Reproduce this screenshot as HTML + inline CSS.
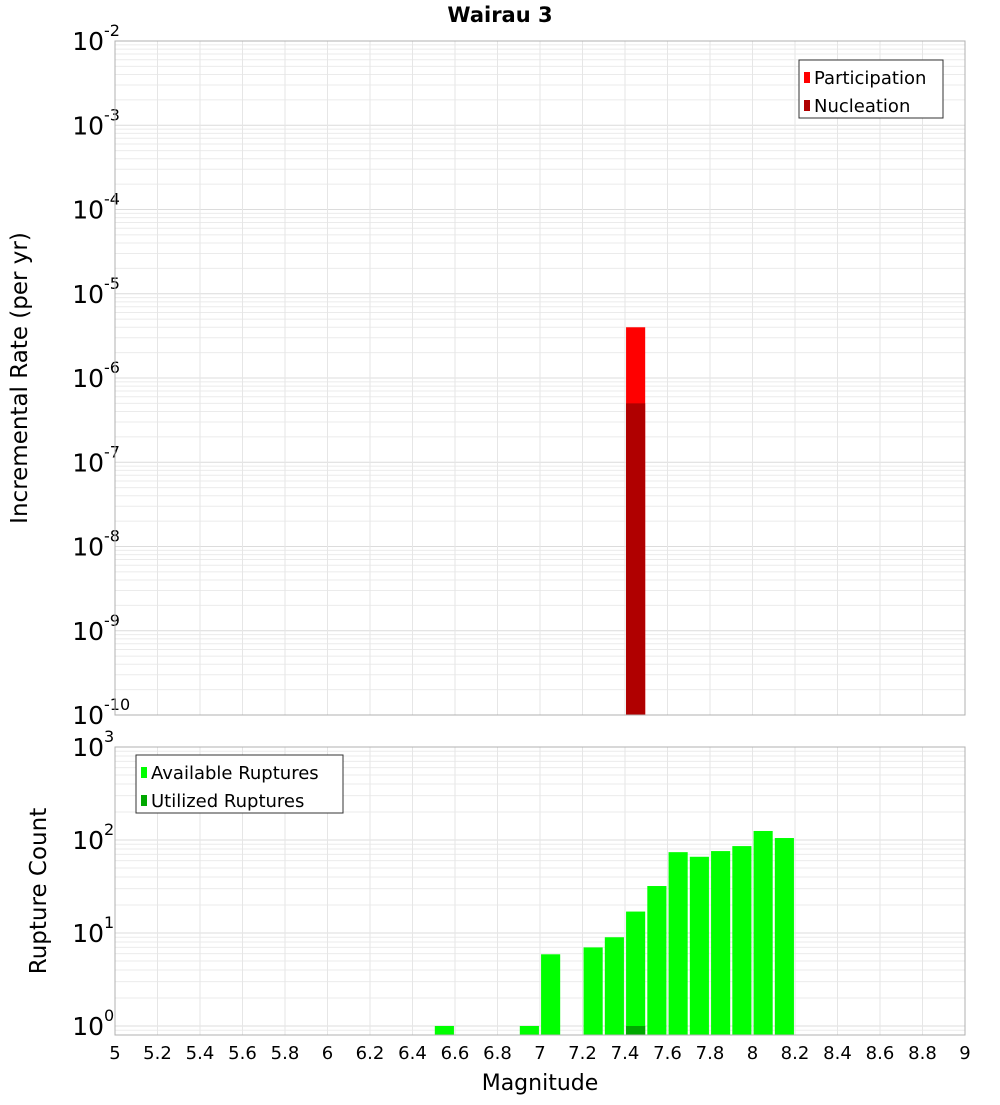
<!DOCTYPE html>
<html><head><meta charset="utf-8"><style>
body{margin:0;background:#fff;font-family:"Liberation Sans","DejaVu Sans",sans-serif}
svg text{font-family:"DejaVu Sans","Liberation Sans",sans-serif}
</style></head><body>
<svg id="chart" width="1000" height="1100" xmlns="http://www.w3.org/2000/svg">
<text x="500" y="22" text-anchor="middle" font-size="21" font-weight="bold">Wairau 3</text>
<g id="top"></g><g id="bot"></g>
</svg>
<script>
const topMags=[7.45];
const participation=[4.0e-6];
const nucleation=[5.0e-7];
const botMags=[6.55,6.95,7.05,7.25,7.35,7.45,7.55,7.65,7.75,7.85,7.95,8.05,8.15];
const available=[1,1,5.9,7,9,17,32,74,66,76,86,125,105];
const utilMags=[7.45];
const utilized=[1];
const xTicks=[5,5.2,5.4,5.6,5.8,6,6.2,6.4,6.6,6.8,7,7.2,7.4,7.6,7.8,8,8.2,8.4,8.6,8.8,9];
const topExps=[-10,-9,-8,-7,-6,-5,-4,-3,-2];
const botExps=[0,1,2,3];

const NS="http://www.w3.org/2000/svg";
const X0=115,X1=965;
const xs=m=>X0+(m-5)/4*(X1-X0);
function mk(p,tag,a){const e=document.createElementNS(NS,tag);for(const k in a)e.setAttribute(k,a[k]);p.appendChild(e);return e;}
function panel(g,yTop,yBot,lmin,lmax,exps,name){
  const ys=v=>yBot-(Math.log10(v)-lmin)/(lmax-lmin)*(yBot-yTop);
  const bg=mk(g,'rect',{x:X0,y:yTop,width:X1-X0,height:yBot-yTop,fill:'#fff'});
  
  
  for(let e=Math.floor(lmin);e<=lmax;e++)for(let k=1;k<10;k++){const v=k*Math.pow(10,e);const l=Math.log10(v);if(l<lmin||l>lmax)continue;
    const ln=mk(g,'line',{x1:X0,x2:X1,y1:ys(v),y2:ys(v),stroke:k==1?'#dcdcdc':'#ebebeb','stroke-width':1});
    
    }
  xTicks.forEach(t=>{const ln=mk(g,'line',{x1:xs(t),x2:xs(t),y1:yTop,y2:yBot,stroke:'#e6e6e6'});
    
    });
  exps.forEach(e=>{const y=ys(Math.pow(10,e));
    const t=mk(g,'text',{x:104,y:y+9,'text-anchor':'end','font-size':25});
    
    
    t.textContent='10';
    const s=mk(g,'text',{x:104,y:y-5,'font-size':16});
    
    
    s.textContent=String(e);});
  return ys;
}
function bars(g,ys,mags,vals,color,name,yBot){
  mags.forEach((m,i)=>{const y=ys(vals[i]);
    const r=mk(g,'rect',{x:xs(m-0.045),y:y,width:xs(m+0.045)-xs(m-0.045),height:yBot-y,fill:color});
    
    });
}
function legend(g,x,y,w,items,name){
  const b=mk(g,'rect',{x:x,y:y,width:w,height:58,fill:'#fff',stroke:'#333'});
  
  
  items.forEach((it,i)=>{
    const s=mk(g,'rect',{x:x+5,y:y+12+i*28,width:6,height:11,fill:it[1]});
    
    
    const t=mk(g,'text',{x:x+15,y:y+24+i*28,'font-size':18});
    
    
    t.textContent=it[0];});
}
const gt=document.getElementById('top'),gb=document.getElementById('bot');
const yT=panel(gt,41,715,-10,-2,topExps,'rate');
bars(gt,yT,topMags,participation,'#ff0000','participation',715);
bars(gt,yT,topMags,nucleation,'#b00000','nucleation',715);
const f1=mk(gt,'rect',{x:X0,y:41,width:X1-X0,height:674,fill:'none',stroke:'#b0b0b0'});


legend(gt,799,60,144,[['Participation','#ff0000'],['Nucleation','#b00000']],'rate-legend');
const yl=mk(gt,'text',{x:27,y:378,'text-anchor':'middle','font-size':23,transform:'rotate(-90 27 378)'});


yl.textContent='Incremental Rate (per yr)';

const yB=panel(gb,747,1035,Math.log10(0.8),3,botExps,'count');
bars(gb,yB,botMags,available,'#00ff00','available',1035);
bars(gb,yB,utilMags,utilized,'#00a800','utilized',1035);
const f2=mk(gb,'rect',{x:X0,y:747,width:X1-X0,height:288,fill:'none',stroke:'#b0b0b0'});


legend(gb,136,755,207,[['Available Ruptures','#00ff00'],['Utilized Ruptures','#00a800']],'count-legend');
const yl2=mk(gb,'text',{x:46,y:891,'text-anchor':'middle','font-size':23,transform:'rotate(-90 46 891)'});


yl2.textContent='Rupture Count';
xTicks.forEach(t=>{const e=mk(gb,'text',{x:xs(t),y:1059,'text-anchor':'middle','font-size':18});
  
  
  e.textContent=String(t);});
const xl=mk(gb,'text',{x:540,y:1090,'text-anchor':'middle','font-size':22});


xl.textContent='Magnitude';
</script>
</body></html>
